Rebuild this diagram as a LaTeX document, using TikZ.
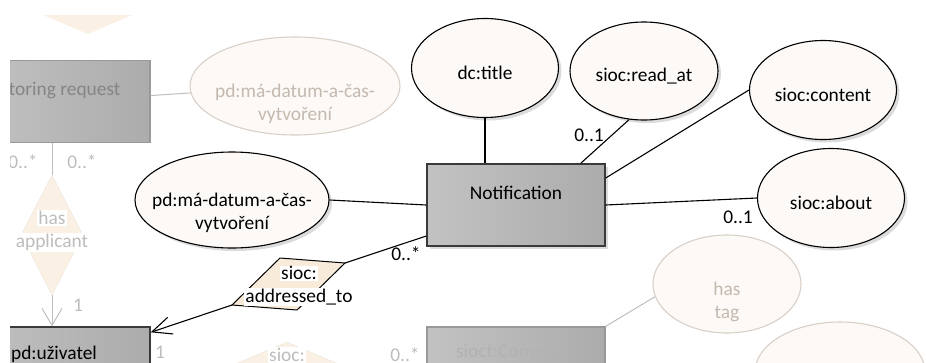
\documentclass[tikz,border=0pt]{standalone}
\usepackage{fontspec}
\setmainfont{Carlito}
\usetikzlibrary{arrows.meta,shapes.geometric,shadows}
\definecolor{entleft}{HTML}{C2C2C2}
\definecolor{entright}{HTML}{ACACAC}
\definecolor{entline}{HTML}{3A3A3A}
\definecolor{attrfill}{HTML}{FCF9F6}
\definecolor{assocfill}{HTML}{F8EBD9}
\definecolor{fadeline}{HTML}{BEBEBE}
\definecolor{fadetext}{HTML}{C4B9AF}
\definecolor{fadegray}{HTML}{BDBDBD}
\definecolor{fadeborder}{HTML}{D9D0C7}
\definecolor{fadeassoc}{HTML}{FAF0E4}

% white strip behind each line of an association name
\newcommand{\wbg}[1]{{\fboxsep=1pt\colorbox{white}{#1}}}

\begin{document}
\begin{tikzpicture}[
  x=1pt, y=-1pt,
  font=\fontsize{19.4pt}{23pt}\selectfont,
  entity/.style={rectangle, draw=entline, line width=1.4pt, left color=entleft, right color=entright,
                 minimum width=178pt, inner xsep=0pt, inner ysep=0pt, text height=35pt, text depth=47pt},
  shadowed/.style={drop shadow={shadow xshift=3pt, shadow yshift=-3pt, fill=black!14, opacity=1}},
  attr/.style={ellipse, draw, line width=1.1pt, fill=attrfill, inner sep=0pt,
               minimum width=147pt, minimum height=99pt},
  atext/.style={align=center, yshift=-5pt},
  assoc/.style={draw, line width=1pt, fill=assocfill},
  assoctext/.style={align=center, inner sep=0pt},
  mult/.style={inner sep=1pt},
  link/.style={line width=1.1pt},
  barb/.style={-{Straight Barb[length=19.5pt, width=17.5pt]}},
  % context around the focus, kept pale
  fentity/.style={entity, draw=black!40, text=black!48},
  fattr/.style={attr, draw=fadeborder, text=fadetext},
  fatext/.style={align=center, text=fadetext},
  fassoc/.style={diamond, draw=assocfill!80!gray!60, fill=fadeassoc, inner sep=0pt},
  fwtext/.style={align=center, text=fadegray},
  fline/.style={draw=fadeline, line width=1pt},
  fmult/.style={mult, text=fadegray}
]
\useasboundingbox (0,0) rectangle (926,362);
\begin{scope}
\clip (10,0) rectangle (926,362);

% Context -- storing request and its applicant
\fill[fadeassoc] (43,15) -- (132,15) -- (88,34) -- cycle;
\node[fentity] (sreq) at (61,101.5) {storing request};
\node[fattr, minimum width=210pt, minimum height=98pt,
      label={[fatext, yshift=-18pt]center:{pd:má-datum-a-čas-\\vytvoření}}] (sreqdate) at (295,86) {};
\draw[fline] (sreq) -- (sreqdate);

\node[entity, minimum width=192pt, text height=32pt, text depth=50pt] (user) at (54,368) {pd:uživatel};
\node[fassoc, minimum width=62pt, minimum height=120pt,
      label={[fwtext, yshift=4pt]center:{\wbg{has}\\\wbg{applicant}}}] (hasapp) at (52,235) {};
\draw[fline] (hasapp.north) -- (hasapp.north |- sreq.south);
\draw[fline, -{Straight Barb[length=17pt, width=20pt]}] (hasapp.south) -- (hasapp.south |- user.north);
\node[fmult] (m-sreq1) at (23,162) {0..*};
\node[fmult] (m-sreq2) at (82,162) {0..*};
\node[fmult] (m-app) at (78,305) {1};

% Context -- comments
\node[fentity, text=black!30, text height=30pt, text depth=52pt] (comment) at (516,368) {sioct:Comment};
\node[fattr, minimum width=148pt, minimum height=98pt,
      label={[fatext, yshift=-18pt]center:{has\\tag}}] (hastag) at (727,284) {};
\draw[fline] (hastag.190) -- (comment.north east);
\node[fattr, minimum width=170pt, minimum height=100pt] (tagattr) at (840,372) {};
\node[fassoc, minimum width=150pt, minimum height=64pt,
      label={[fwtext, yshift=19pt]center:{\wbg{sioc:}}}] (commassoc) at (287,374) {};
\node[fmult] (m-user) at (160,352) {1};
\node[fmult] (m-comment) at (405,355) {0..*};

% Focus -- Notification with its attributes
\node[entity, shadowed] (notif) at (516,205) {Notification};
\node[attr, shadowed, label={[atext]center:{dc:title}}] (title) at (485,68) {};
\node[attr, shadowed, minimum width=148pt, minimum height=98pt,
      label={[atext]center:{sioc:read\_at}}] (readat) at (644,71) {};
\node[attr, shadowed, label={[atext]center:{sioc:content}}] (content) at (823,90) {};
\node[attr, shadowed, label={[atext]center:{sioc:about}}] (about) at (831,198) {};
\node[attr, shadowed, minimum width=194pt, minimum height=96pt,
      label={[atext, yshift=-8pt]center:{pd:má-datum-a-čas-\\vytvoření}}] (created) at (232,200) {};

\draw[link] (title) -- (title |- notif.north);
\draw[link] (readat.-107) -- ([xshift=-25pt]notif.north east);
\draw[link] (content.west) -- ([yshift=27pt]notif.east);
\draw[link] (notif.east) -- (about.west);
\draw[link] (created.east) -- (notif.west);

\node[mult] (m-read) at (589,135) {0..1};
\node[mult] (m-about) at (738,217) {0..1};

% sioc:addressed_to -- Notification to pd:uživatel
\coordinate (addrL) at (232,305);
\coordinate (addrT) at (280,258);
\coordinate (addrR) at (345,263);
\coordinate (addrB) at (297,310);
\filldraw[assoc] (addrL) -- (addrT) -- (addrR) -- (addrB) -- cycle;
\node[assoctext] (addr) at (299,286) {\wbg{sioc:}\\\wbg{addressed\_to}};
\draw[link] ([yshift=-31pt]notif.west) -- (addrR);
\draw[link, barb] (addrL) -- ([yshift=-6pt]user.north east);
\node[mult] (m-addr) at (406,254) {0..*};

\end{scope}
\end{tikzpicture}
\end{document}
